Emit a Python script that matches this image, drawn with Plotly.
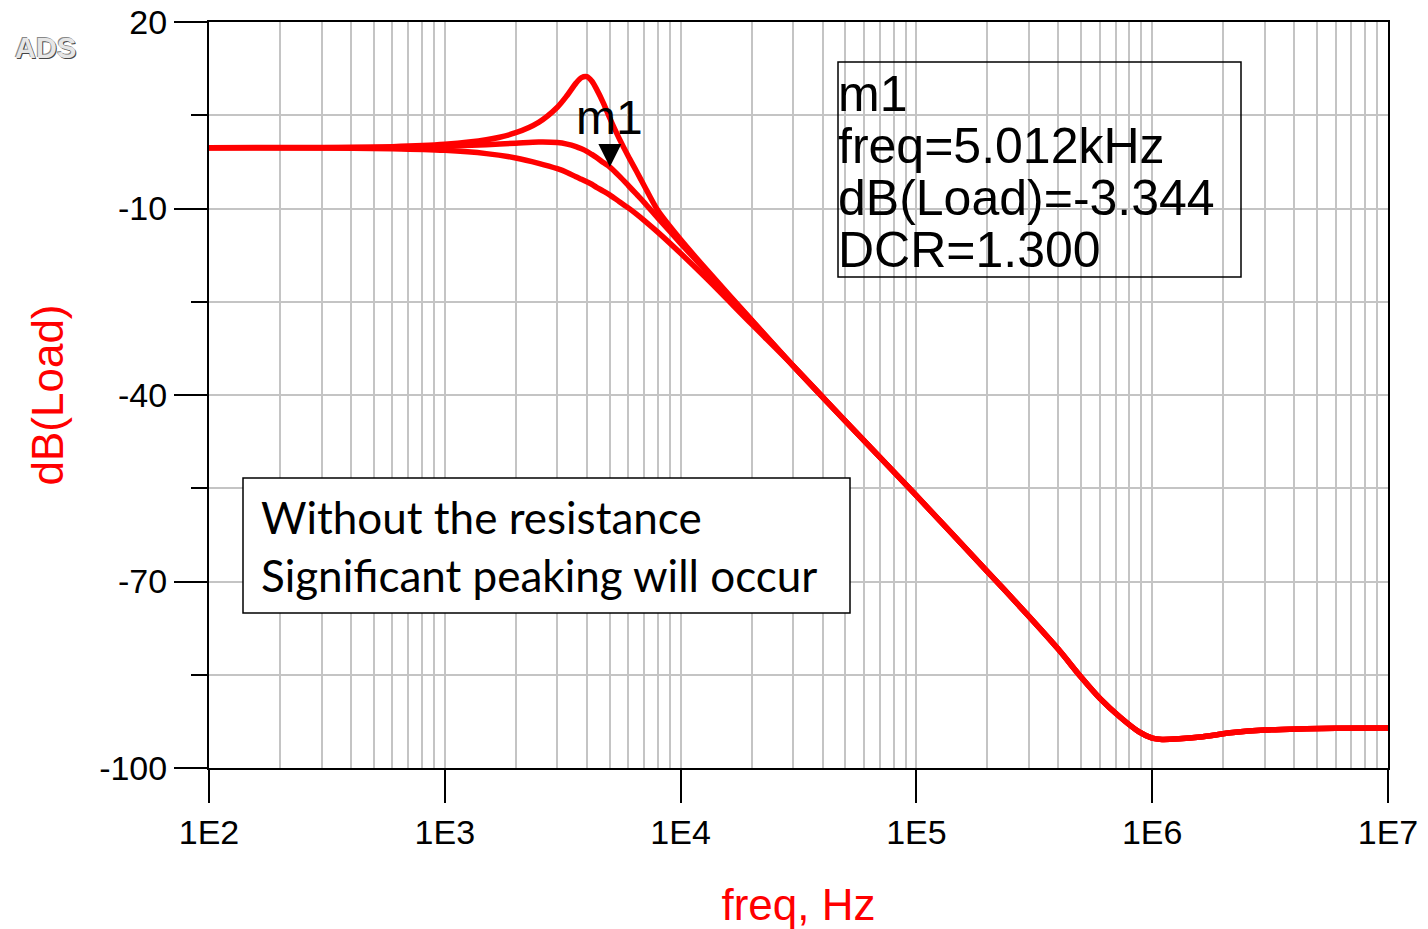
import numpy as np
import plotly.graph_objects as go

# ---------------- data ----------------
freq_near = [100, 300, 600, 1000, 1500, 2000, 2500, 3000, 3300, 3600, 3800, 4000,
             4200, 4400, 4700, 5000, 5500, 6000, 6500, 7000, 8000, 10000, 13000, 20000]
db_peaking = [-0.22, -0.18, -0.05, 0.33, 1.06, 2.19, 3.85, 6.28, 8.17, 10.17, 11.05, 11.2,
              10.5, 9.2, 7.0, 4.6, 1.2, -1.6, -4.0, -6.3, -10.3, -15.0, -20.0, -27.9]
db_mid = [-0.22, -0.21, -0.15, 0.01, 0.27, 0.5, 0.68, 0.6, 0.35, -0.05, -0.4, -0.8,
          -1.3, -1.8, -2.6, -3.3, -4.8, -6.3, -7.7, -9.0, -11.5, -15.6, -20.3, -28.0]
db_damped = [-0.23, -0.26, -0.38, -0.65, -1.17, -1.87, -2.73, -3.6, -4.2, -4.9, -5.3, -5.7,
             -6.1, -6.6, -7.2, -7.8, -8.9, -9.9, -10.9, -11.9, -13.8, -17.2, -21.4, -28.6]

freq_tail = [30000, 50000, 1e5, 2e5, 3e5, 4e5, 5e5, 6e5, 7.3e5, 8.8e5, 1e6, 1.1e6,
             1.3e6, 1.6e6, 2.2e6, 3e6, 4.5e6, 6e6, 1e7]
db_tail = [-35.3, -44.2, -56.2, -68.4, -75.6, -80.9, -85.4, -88.8, -91.8, -94.2, -95.2, -95.4,
           -95.3, -95.0, -94.3, -93.9, -93.7, -93.6, -93.55]

m1_freq = 5012.0
m1_db = -3.344
dcr = 1.300

x_tickvals = [1e2, 1e3, 1e4, 1e5, 1e6, 1e7]
x_ticktext = ["1E2", "1E3", "1E4", "1E5", "1E6", "1E7"]
x_minor = [k * 10 ** n for n in range(2, 7) for k in range(2, 10)]
y_tickvals = [20, -10, -40, -70, -100]
y_ticktext = ["20", "-10", "-40", "-70", "-100"]
y_minor = [5, -25, -55, -85]

# ---------------- layout geometry (page pixels; body margin removed) ----------------
W, H = 1428, 929
PL, PR, PT, PB = 209, 1388, 22, 768          # plot area in page pixels
L, R, T, B = PL, W - PR, PT, H - PB
pw, ph = PR - PL, PB - PT


def px(xp):
    return (xp - PL) / pw


def py(yp):
    return (PB - yp) / ph


fig = go.Figure()
for db in (db_damped, db_mid, db_peaking):
    fig.add_trace(go.Scatter(
        x=freq_near + freq_tail, y=db + db_tail, mode="lines",
        line=dict(color="#ff0000", width=5.5, shape="spline", smoothing=0.8),
        showlegend=False, hoverinfo="skip"))

grid = "#c4c4c4"
fig.update_layout(
    template="none",
    width=W, height=H,
    margin=dict(l=L, r=R, t=T, b=B, pad=0),
    paper_bgcolor="white", plot_bgcolor="white",
    showlegend=False,
    xaxis=dict(
        type="log", range=[2, 7], automargin=False,
        tickmode="array", tickvals=x_tickvals, ticktext=x_ticktext,
        ticks="outside", ticklen=33, tickwidth=2, tickcolor="black",
        showline=True, linecolor="black", linewidth=2, mirror=True,
        showgrid=True, gridcolor=grid, gridwidth=2, zeroline=False,
        minor=dict(tickmode="array", tickvals=x_minor, showgrid=True,
                   gridcolor=grid, gridwidth=2, ticks=""),
        tickfont=dict(family="Liberation Sans", size=34, color="black"),
        title=dict(text="freq, Hz", standoff=44,
                   font=dict(family="Liberation Sans", size=44, color="#ff0000")),
    ),
    yaxis=dict(
        range=[-100, 20], automargin=False,
        tickmode="array", tickvals=y_tickvals, ticktext=y_ticktext,
        ticks="outside", ticklen=33, tickwidth=2, tickcolor="black",
        showline=True, linecolor="black", linewidth=2, mirror=True,
        showgrid=True, gridcolor=grid, gridwidth=2, zeroline=False,
        minor=dict(tickmode="array", tickvals=y_minor, showgrid=True,
                   gridcolor=grid, gridwidth=2, ticks="outside", ticklen=16,
                   tickwidth=2, tickcolor="black"),
        tickfont=dict(family="Liberation Sans", size=34, color="black"),
        title=dict(text="dB(Load)", standoff=22,
                   font=dict(family="Liberation Sans", size=44, color="#ff0000")),
    ),
)

# marker m1 on the curve
fig.add_annotation(
    x=np.log10(m1_freq), y=m1_db, xref="x", yref="y",
    text="m1", showarrow=True, arrowhead=2, arrowsize=4.6, arrowwidth=1,
    arrowcolor="black", ax=0, ay=-50,
    font=dict(family="Liberation Sans", size=48, color="black"))

# marker readout box
fig.add_shape(type="rect", xref="paper", yref="paper",
              x0=px(838), x1=px(1241), y0=py(277), y1=py(62),
              line=dict(color="black", width=1.5), fillcolor="rgba(0,0,0,0)")
readout = ["m1", f"freq={m1_freq/1000:.3f}kHz", f"dB(Load)={m1_db:.3f}", f"DCR={dcr:.3f}"]
centers = [94, 146, 198, 250]
for txt, cy in zip(readout, centers):
    fig.add_annotation(x=px(836), y=py(cy), xref="paper", yref="paper",
                       xanchor="left", yanchor="middle", showarrow=False, text=txt,
                       font=dict(family="Liberation Sans", size=50, color="black"))

# note box
fig.add_shape(type="rect", xref="paper", yref="paper",
              x0=px(243), x1=px(850), y0=py(613), y1=py(478),
              line=dict(color="black", width=1.5), fillcolor="white")
for txt, cy in zip(["Without the resistance", "Significant peaking will occur"], [517, 575]):
    fig.add_annotation(x=px(259), y=py(cy), xref="paper", yref="paper",
                       xanchor="left", yanchor="middle", showarrow=False, text=txt,
                       font=dict(family="Lato", size=44, color="black"))

# ADS logo
fig.add_annotation(x=px(45), y=py(48), xref="paper", yref="paper",
                   xanchor="center", yanchor="middle", showarrow=False, text="<b>ADS</b>",
                   font=dict(family="Liberation Sans", size=29, color="#e6e6e6",
                             shadow="1px 1px 0px #444, -1px -1px 0px #888"))

fig.write_html(
    "out.html",
    config={"displayModeBar": False},
    post_script="document.body.style.margin='0';document.body.style.overflow='hidden';")
